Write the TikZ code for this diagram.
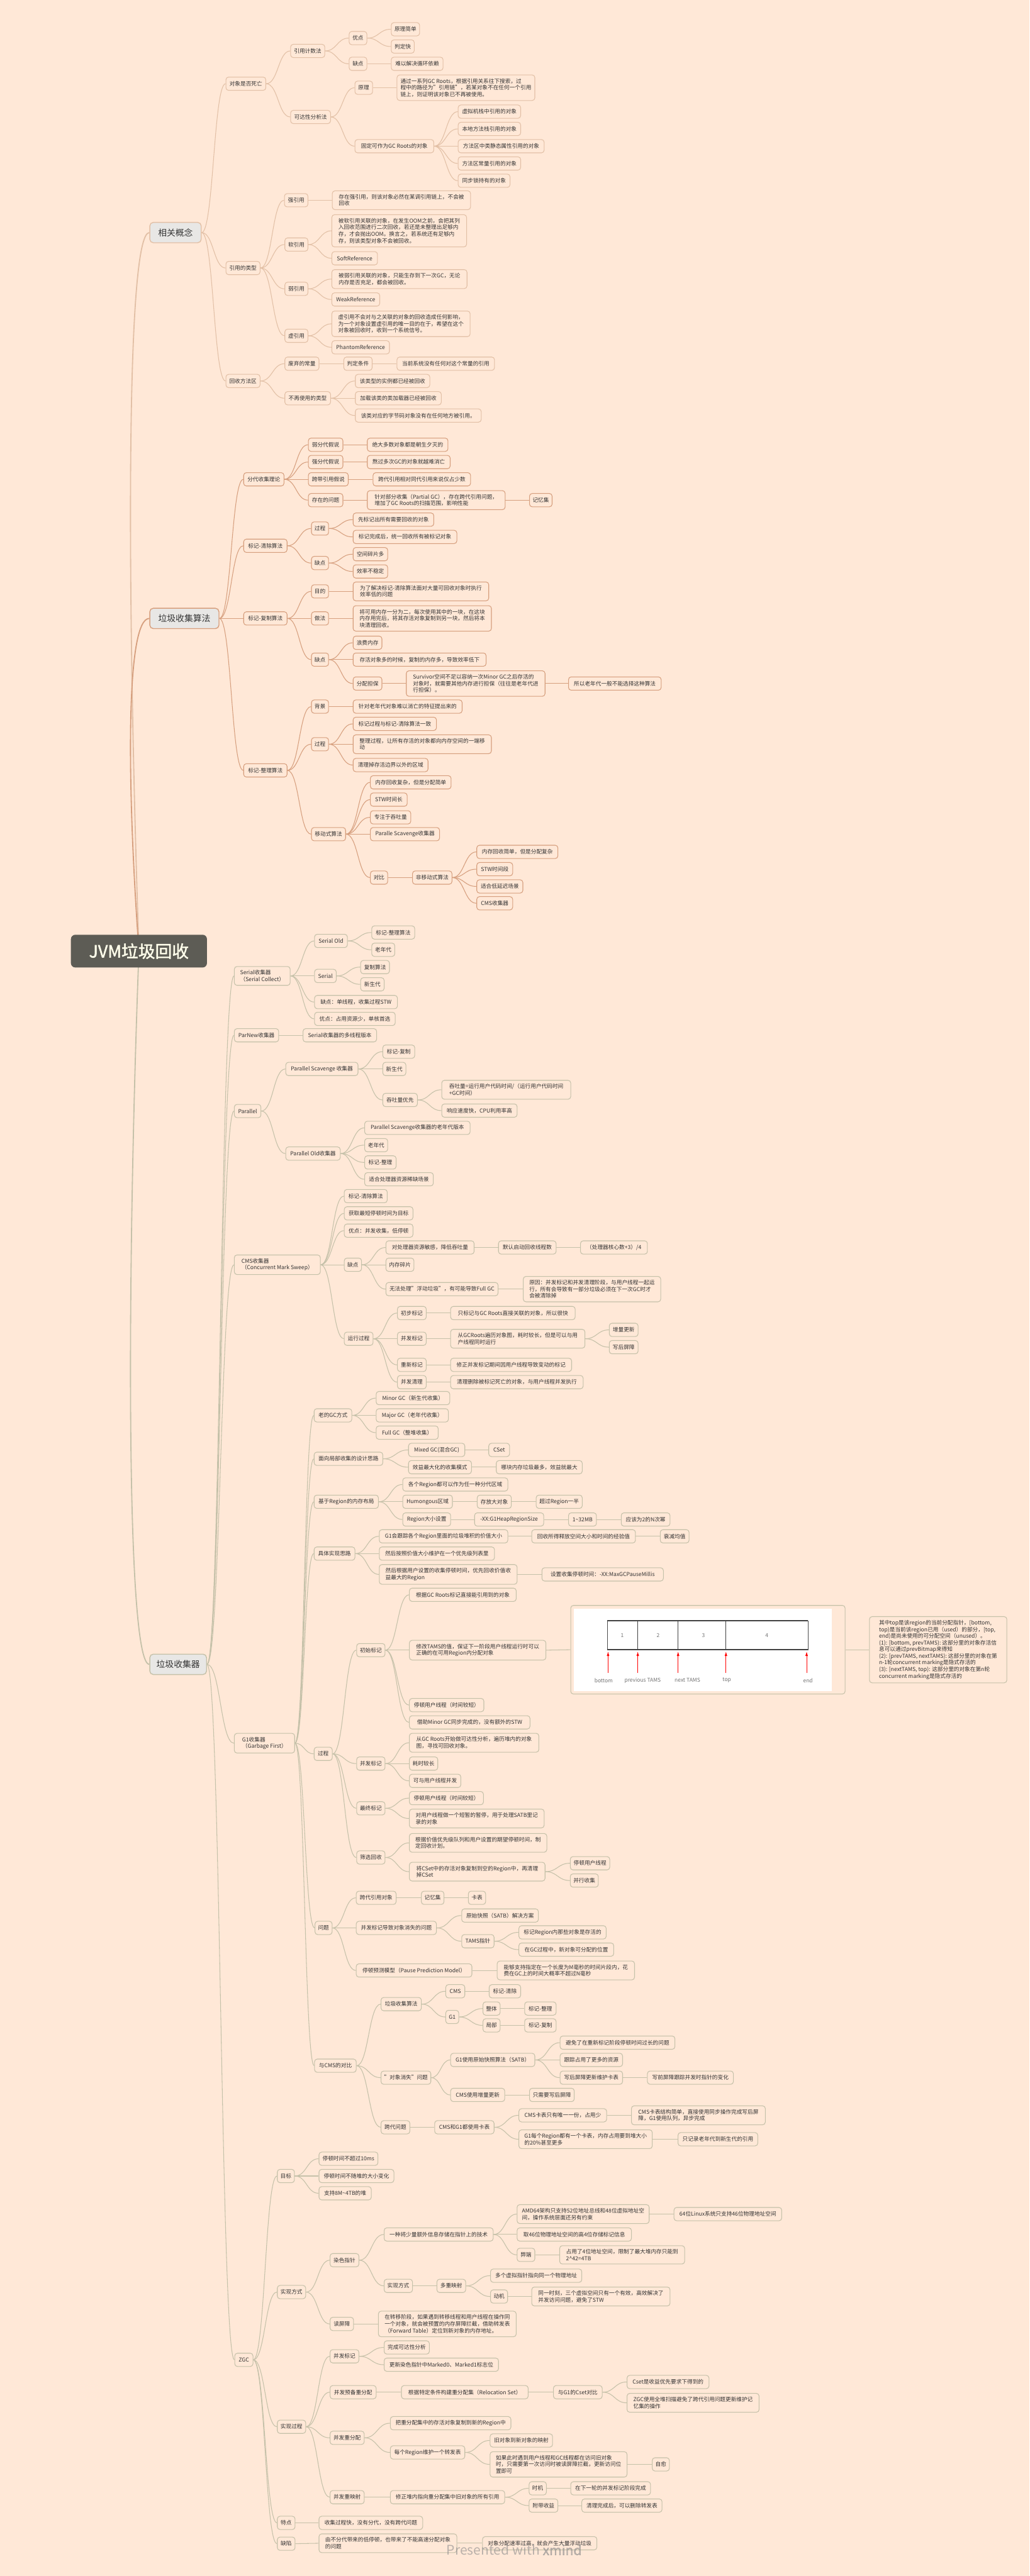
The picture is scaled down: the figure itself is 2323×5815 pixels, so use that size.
\documentclass[tikz,border=0pt]{standalone}
\usepackage{fontspec}
\setmainfont{Noto Sans CJK SC}
\newfontfamily\boldcjk[FakeBold=1.5]{Noto Sans CJK SC}
\usetikzlibrary{calc,arrows.meta}
\pgfdeclarelayer{bg}
\pgfsetlayers{bg,main}
\definecolor{bgc}{HTML}{FFE8D7}
\definecolor{colA}{HTML}{E2C0A6}
\definecolor{colB}{HTML}{D69F7E}
\definecolor{colC}{HTML}{C5C1A9}
\definecolor{mainfill}{HTML}{E8E7E5}
\definecolor{rootfill}{HTML}{5D5C55}
\definecolor{txt}{HTML}{333333}
\newcommand\nd[6]{\node[#1,minimum width=#5*0.5pt,anchor=west] (#2) at (#3,#4) {#6};}
\newcommand\fan[3]{\foreach \chl in {#3}{\draw[#1] (#2.east) to[mmcurve] (\chl.west);}}
\begin{document}
\begin{tikzpicture}[x=0.5pt,y=-0.5pt,
  mbox/.style={draw, fill=bgc, rounded corners=3pt, line width=0.75pt, inner xsep=3.5pt, inner ysep=4pt, minimum height=15pt, align=left, text=txt, font=\fontsize{6.15pt}{7.5pt}\selectfont},
  t1/.style={mbox, draw=colA}, t2/.style={mbox, draw=colB}, t3/.style={mbox, draw=colC},
  l1/.style={draw=colA, line width=0.75pt}, l2/.style={draw=colB, line width=0.75pt}, l3/.style={draw=colC, line width=0.75pt},
  mainst/.style={draw, fill=mainfill, rounded corners=4pt, line width=1pt, minimum height=23pt, text=txt, font=\fontsize{9.8pt}{11pt}\selectfont, anchor=west},
  rootst/.style={fill=rootfill, rounded corners=5pt, text=white!92!yellow, font=\boldcjk\fontsize{19pt}{22pt}\selectfont},
  imgl/.style={font=\fontsize{6pt}{7pt}\selectfont, text=black!55, inner sep=0pt},
  mmcurve/.style={to path={.. controls ($(\tikztostart)!0.5!(\tikztotarget|-\tikztostart)$) and ($(\tikztotarget)!0.5!(\tikztostart|-\tikztotarget)$) .. (\tikztotarget)}}
]
\begin{pgfonlayer}{bg}
\fill[bgc] (0,0) rectangle (2323,5815);
\end{pgfonlayer}
\useasboundingbox (0,0) rectangle (2323,5815);

% root and main
\node[rootst, minimum width=153.5pt, minimum height=37pt] (root) at (313.5,2147) {JVM垃圾回收};
\node[mainst, draw=colA, minimum width=58pt] (s1) at (337,525) {相关概念};
\node[mainst, draw=colB, minimum width=78pt] (s2) at (337,1396) {垃圾收集算法};
\node[mainst, draw=colC, minimum width=64pt] (s3) at (337,3757) {垃圾收集器};

% ---------- section 1
\nd{t1}{a}{509}{189}{90}{对象是否死亡}
\nd{t1}{a1}{655}{115}{77}{引用计数法}
\nd{t1}{a11}{787}{86}{40}{优点}
\nd{t1}{a111}{882}{66}{64}{原理简单}
\nd{t1}{a112}{882}{105}{52}{判定快}
\nd{t1}{a12}{787}{144}{40}{缺点}
\nd{t1}{a121}{882}{144}{117}{难以解决循环依赖}
\nd{t1}{a2}{655}{264}{90}{可达性分析法}
\nd{t1}{a21}{800}{198}{40}{原理}
\nd{t1}{a211}{895}{198}{311}{通过一系列GC Roots，根据引用关系往下搜索，过\\程中的路径为"引用链"，若某对象不在任何一个引用\\链上，则证明该对象已不再被使用。}
\nd{t1}{a22}{800}{330}{178}{固定可作为GC Roots的对象}
\nd{t1}{a221}{1033}{252}{141}{虚拟机栈中引用的对象}
\nd{t1}{a222}{1033}{291}{141}{本地方法栈引用的对象}
\nd{t1}{a223}{1033}{330}{194}{方法区中类静态属性引用的对象}
\nd{t1}{a224}{1033}{369}{141}{方法区常量引用的对象}
\nd{t1}{a225}{1033}{408}{117}{同步锁持有的对象}
\nd{t1}{b}{509}{605}{77}{引用的类型}
\nd{t1}{b1}{641}{452}{53}{强引用}
\nd{t1}{b11}{749}{452}{312}{存在强引用，则该对象必然在某调引用链上，不会被\\回收}
\nd{t1}{b2}{642}{552}{52}{软引用}
\nd{t1}{b21}{748}{521}{304}{被软引用关联的对象，在发生OOM之前，会把其列\\入回收范围进行二次回收，若还是未整理出足够内\\存，才会抛出OOM。换言之，若系统还有足够内\\存，则该类型对象不会被回收。}
\nd{t1}{b22}{748}{583}{103}{SoftReference}
\nd{t1}{b3}{642}{652}{52}{弱引用}
\nd{t1}{b31}{748}{630}{305}{被弱引用关联的对象，只能生存到下一次GC，无论\\内存是否充足，都会被回收。}
\nd{t1}{b32}{748}{676}{108}{WeakReference}
\nd{t1}{b4}{642}{758}{52}{虚引用}
\nd{t1}{b41}{748}{731}{312}{虚引用不会对与之关联的对象的回收造成任何影响，\\为一个对象设置虚引用的唯一目的在于，希望在这个\\对象被回收时，收到一个系统信号。}
\nd{t1}{b42}{748}{784}{130}{PhantomReference}
\nd{t1}{c}{509}{860}{77}{回收方法区}
\nd{t1}{c1}{642}{821}{77}{废弃的常量}
\nd{t1}{c11}{775}{821}{64}{判定条件}
\nd{t1}{c111}{895}{821}{220}{当前系统没有任何对这个常量的引用}
\nd{t1}{c2}{642}{899}{103}{不再使用的类型}
\nd{t1}{c21}{801}{860}{168}{该类型的实例都已经被回收}
\nd{t1}{c22}{801}{899}{194}{加载该类的类加载器已经被回收}
\nd{t1}{c23}{801}{938}{284}{该类对应的字节码对象没有在任何地方被引用。}

% ---------- section 2
\nd{t2}{d}{549}{1082}{91}{分代收集理论}
\nd{t2}{d1}{695}{1004}{78}{弱分代假说}
\nd{t2}{d11}{828}{1004}{182}{绝大多数对象都是朝生夕灭的}
\nd{t2}{d2}{695}{1043}{78}{强分代假说}
\nd{t2}{d21}{828}{1043}{187}{熬过多次GC的对象就越难消亡}
\nd{t2}{d3}{695}{1082}{90}{跨带引用假说}
\nd{t2}{d31}{841}{1082}{220}{跨代引用相对同代引用来说仅占少数}
\nd{t2}{d4}{695}{1129}{78}{存在的问题}
\nd{t2}{d41}{828}{1129}{311}{针对部分收集（Partial GC），存在跨代引用问题，\\增加了GC Roots的扫描范围，影响性能}
\nd{t2}{d411}{1194}{1129}{51}{记忆集}
\nd{t2}{e}{549}{1232}{98}{标记-清除算法}
\nd{t2}{e1}{702}{1193}{37}{过程}
\nd{t2}{e11}{796}{1173}{182}{先标记出所有需要回收的对象}
\nd{t2}{e12}{796}{1212}{234}{标记完成后，统一回收所有被标记对象}
\nd{t2}{e2}{702}{1271}{37}{缺点}
\nd{t2}{e21}{796}{1251}{78}{空间碎片多}
\nd{t2}{e22}{796}{1290}{78}{效率不稳定}
\nd{t2}{f}{549}{1396}{98}{标记-复制算法}
\nd{t2}{f1}{702}{1335}{37}{目的}
\nd{t2}{f11}{796}{1335}{306}{为了解决标记-清除算法面对大量可回收对象时执行\\效率低的问题}
\nd{t2}{f2}{702}{1396}{37}{做法}
\nd{t2}{f21}{796}{1396}{312}{将可用内存一分为二，每次使用其中的一块，在这块\\内存用完后，将其存活对象复制到另一块，然后将本\\块清理回收。}
\nd{t2}{f3}{702}{1489}{37}{缺点}
\nd{t2}{f31}{796}{1451}{65}{浪费内存}
\nd{t2}{f32}{796}{1489}{300}{存活对象多的时候，复制的内存多，导致效率低下}
\nd{t2}{f33}{796}{1543}{65}{分配担保}
\nd{t2}{f331}{916}{1543}{313}{Survivor空间不足以容纳一次Minor GC之后存活的\\对象时，就需要其他内存进行担保（往往是老年代进\\行担保）。}
\nd{t2}{f3311}{1282}{1543}{209}{所以老年代一般不能选择这种算法}
\nd{t2}{g}{549}{1739}{98}{标记-整理算法}
\nd{t2}{g1}{702}{1595}{37}{背景}
\nd{t2}{g11}{796}{1595}{246}{针对老年代对象难以消亡的特征提出来的}
\nd{t2}{g2}{702}{1680}{37}{过程}
\nd{t2}{g21}{796}{1634}{188}{标记过程与标记-清除算法一致}
\nd{t2}{g22}{796}{1680}{312}{整理过程，让所有存活的对象都向内存空间的一端移\\动}
\nd{t2}{g23}{796}{1727}{169}{清理掉存活边界以外的区域}
\nd{t2}{g3}{702}{1883}{77}{移动式算法}
\nd{t2}{g31}{835}{1766}{182}{内存回收复杂，但是分配简单}
\nd{t2}{g32}{835}{1805}{83}{STW时间长}
\nd{t2}{g33}{835}{1845}{91}{专注于吞吐量}
\nd{t2}{g34}{835}{1883}{156}{Paralle Scavenge收集器}
\nd{t2}{g35}{835}{1981}{39}{对比}
\nd{t2}{g351}{930}{1981}{89}{非移动式算法}
\nd{t2}{g3511}{1075}{1923}{183}{内存回收简单，但是分配复杂}
\nd{t2}{g3512}{1075}{1962}{81}{STW时间段}
\nd{t2}{g3513}{1075}{2001}{104}{适合低延迟场景}
\nd{t2}{g3514}{1075}{2039}{81}{CMS收集器}

% ---------- section 3
\nd{t3}{h}{528}{2203}{126}{Serial收集器\\（Serial Collect）}
\nd{t3}{h1}{709}{2124}{74}{Serial Old}
\nd{t3}{h11}{838}{2105}{97}{标记-整理算法}
\nd{t3}{h12}{838}{2144}{52}{老年代}
\nd{t3}{h2}{709}{2203}{49}{Serial}
\nd{t3}{h21}{813}{2183}{65}{复制算法}
\nd{t3}{h22}{813}{2222}{53}{新生代}
\nd{t3}{h3}{709}{2262}{187}{缺点：单线程，收集过程STW}
\nd{t3}{h4}{709}{2300}{182}{优点：占用资源少，单核首选}
\nd{t3}{i}{528}{2337}{100}{ParNew收集器}
\nd{t3}{i1}{683}{2337}{166}{Serial收集器的多线程版本}
\nd{t3}{j}{528}{2508}{60}{Parallel}
\nd{t3}{j1}{644}{2413}{163}{Parallel Scavenge 收集器}
\nd{t3}{j11}{863}{2374}{72}{标记-复制}
\nd{t3}{j12}{863}{2413}{52}{新生代}
\nd{t3}{j13}{863}{2483}{78}{吞吐量优先}
\nd{t3}{j131}{996}{2460}{291}{吞吐量=运行用户代码时间/（运行用户代码时间\\+GC时间）}
\nd{t3}{j132}{996}{2507}{170}{响应速度快，CPU利用率高}
\nd{t3}{j2}{644}{2604}{123}{Parallel Old收集器}
\nd{t3}{j21}{822}{2546}{238}{Parallel Scavenge收集器的老年代版本}
\nd{t3}{j22}{822}{2585}{52}{老年代}
\nd{t3}{j23}{822}{2624}{71}{标记-整理}
\nd{t3}{j24}{822}{2662}{155}{适合处理器资源稀缺场景}
\nd{t3}{k}{528}{2855}{194}{CMS收集器\\（Concurrent Mark Sweep）}
\nd{t3}{k1}{776}{2700}{97}{标记-清除算法}
\nd{t3}{k2}{776}{2739}{155}{获取最短停顿时间为目标}
\nd{t3}{k3}{776}{2778}{155}{优点：并发收集，低停顿}
\nd{t3}{k4}{776}{2855}{39}{缺点}
\nd{t3}{k41}{870}{2816}{199}{对处理器资源敏感，降低吞吐量}
\nd{t3}{k411}{1124}{2816}{130}{默认启动回收线程数}
\nd{t3}{k4111}{1309}{2816}{151}{（处理器核心数+3）/4}
\nd{t3}{k42}{870}{2855}{63}{内存碎片}
\nd{t3}{k43}{870}{2910}{253}{无法处理"浮动垃圾"，有可能导致Full GC}
\nd{t3}{k431}{1180}{2910}{310}{原因：并发标记和并发清理阶段，与用户线程一起运\\行，所有会导致有一部分垃圾必须在下一次GC时才\\会被清除掉}
\nd{t3}{k5}{776}{3022}{65}{运行过程}
\nd{t3}{k51}{896}{2964}{65}{初步标记}
\nd{t3}{k511}{1016}{2964}{281}{只标记与GC Roots直接关联的对象，所以很快}
\nd{t3}{k52}{896}{3022}{65}{并发标记}
\nd{t3}{k521}{1016}{3022}{303}{从GCRoots遍历对象图，耗时较长，但是可以与用\\户线程同时运行}
\nd{t3}{k5211}{1374}{3002}{65}{增量更新}
\nd{t3}{k5212}{1374}{3041}{65}{写后屏障}
\nd{t3}{k53}{896}{3081}{65}{重新标记}
\nd{t3}{k531}{1016}{3081}{273}{修正并发标记期间因用户线程导致变动的标记}
\nd{t3}{k54}{896}{3120}{65}{并发清理}
\nd{t3}{k541}{1016}{3120}{299}{清理删除被标记死亡的对象，与用户线程并发执行}

\nd{t3}{m}{528}{3935}{136}{G1收集器\\（Garbage First）}
\nd{t3}{m1}{708}{3195}{85}{老的GC方式}
\nd{t3}{m11}{848}{3156}{166}{Minor GC（新生代收集）}
\nd{t3}{m12}{848}{3195}{163}{Major GC（老年代收集）}
\nd{t3}{m13}{848}{3234}{140}{Full GC（整堆收集）}
\nd{t3}{m2}{708}{3293}{155}{面向局部收集的设计思路}
\nd{t3}{m21}{921}{3273}{127}{Mixed GC(混合GC)}
\nd{t3}{m211}{1102}{3273}{47}{CSet}
\nd{t3}{m22}{921}{3312}{142}{效益最大化的收集模式}
\nd{t3}{m221}{1119}{3312}{194}{哪块内存垃圾最多，效益就最大}
\nd{t3}{m3}{708}{3390}{145}{基于Region的内存布局}
\nd{t3}{m31}{908}{3351}{237}{各个Region都可以作为任一种分代区域}
\nd{t3}{m32}{908}{3390}{112}{Humongous区域}
\nd{t3}{m321}{1076}{3390}{77}{存放大对象}
\nd{t3}{m3211}{1209}{3390}{104}{超过Region一半}
\nd{t3}{m33}{908}{3430}{108}{Region大小设置}
\nd{t3}{m331}{1070}{3430}{156}{-XX:G1HeapRegionSize}
\nd{t3}{m3311}{1282}{3430}{63}{1\textasciitilde32MB}
\nd{t3}{m33111}{1401}{3430}{110}{应该为2的N次幂}
\nd{t3}{m4}{708}{3507}{92}{具体实现思路}
\nd{t3}{m41}{855}{3468}{290}{G1会跟踪各个Region里面的垃圾堆积的价值大小}
\nd{t3}{m411}{1199}{3468}{234}{回收所得释放空间大小和时间的经验值}
\nd{t3}{m4111}{1489}{3468}{65}{衰减均值}
\nd{t3}{m42}{855}{3507}{260}{然后按照价值大小维护在一个优先级列表里}
\nd{t3}{m43}{855}{3554}{311}{然后根据用户设置的收集停顿时间，优先回收价值收\\益最大的Region}
\nd{t3}{m431}{1222}{3554}{274}{设置收集停顿时间：-XX:MaxGCPauseMillis}
\nd{t3}{m5}{708}{3959}{41}{过程}
\nd{t3}{m51}{804}{3725}{64}{初始标记}
\nd{t3}{m511}{923}{3600}{241}{根据GC Roots标记直接能引用到的对象}
\nd{t3}{m512}{923}{3725}{308}{修改TAMS的值，保证下一阶段用户线程运行时可以\\正确的在可用Region内分配对象}
\node[t3, minimum width=309.5pt, minimum height=100pt, anchor=west] (m5121) at (1287,3724) {};
\nd{t3}{m51211}{1961}{3724}{310}{其中top是该region的当前分配指针，[bottom,\\top)是当前该region已用（used）的部分，[top,\\end)是尚未使用的可分配空间（unused）。\\(1): [bottom, prevTAMS): 这部分里的对象存活信\\息可以通过prevBitmap来得知\\(2): [prevTAMS, nextTAMS): 这部分里的对象在第\\n-1轮concurrent marking是隐式存活的\\(3): [nextTAMS, top): 这部分里的对象在第n轮\\concurrent marking是隐式存活的}
\nd{t3}{m513}{923}{3849}{168}{停顿用户线程（时间较短）}
\nd{t3}{m514}{923}{3888}{272}{借助Minor GC同步完成的，没有额外的STW}
\nd{t3}{m52}{804}{3981}{64}{并发标记}
\nd{t3}{m521}{923}{3934}{292}{从GC Roots开始做可达性分析，遍历堆内的对象\\图，寻找可回收对象。}
\nd{t3}{m522}{923}{3981}{64}{耗时较长}
\nd{t3}{m523}{923}{4020}{116}{可与用户线程并发}
\nd{t3}{m53}{804}{4082}{64}{最终标记}
\nd{t3}{m531}{923}{4059}{167}{停顿用户线程（时间较短）}
\nd{t3}{m532}{923}{4105}{304}{对用户线程做一个短暂的暂停，用于处理SATB里记\\录的对象}
\nd{t3}{m54}{804}{4193}{64}{筛选回收}
\nd{t3}{m541}{923}{4160}{310}{根据价值优先级队列和用户设置的期望停顿时间，制\\定回收计划。}
\nd{t3}{m542}{923}{4225}{306}{将CSet中的存活对象复制到空的Region中，再清理\\掉CSet}
\nd{t3}{m5421}{1286}{4206}{89}{停顿用户线程}
\nd{t3}{m5422}{1286}{4245}{63}{并行收集}
\nd{t3}{m6}{710}{4352}{38}{问题}
\nd{t3}{m61}{803}{4284}{90}{跨代引用对象}
\nd{t3}{m611}{950}{4284}{51}{记忆集}
\nd{t3}{m6111}{1056}{4284}{39}{卡表}
\nd{t3}{m62}{803}{4352}{181}{并发标记导致对象消失的问题}
\nd{t3}{m621}{1041}{4324}{173}{原始快照（SATB）解决方案}
\nd{t3}{m622}{1041}{4382}{73}{TAMS指针}
\nd{t3}{m6221}{1170}{4362}{197}{标记Region内那些对象是存活的}
\nd{t3}{m6222}{1170}{4401}{214}{在GC过程中，新对象可分配的位置}
\nd{t3}{m63}{803}{4448}{261}{停顿预测模型（Pause Prediction Model）}
\nd{t3}{m631}{1121}{4448}{310}{能够支持指定在一个长度为M毫秒的时间片段内，花\\费在GC上的时间大概率不超过N毫秒}
\nd{t3}{m7}{709}{4663}{94}{与CMS的对比}
\nd{t3}{m71}{859}{4524}{91}{垃圾收集算法}
\nd{t3}{m711}{1005}{4495}{43}{CMS}
\nd{t3}{m7111}{1103}{4495}{71}{标记-清除}
\nd{t3}{m712}{1005}{4553}{29}{G1}
\nd{t3}{m7121}{1089}{4534}{38}{整体}
\nd{t3}{m71211}{1183}{4534}{71}{标记-整理}
\nd{t3}{m7122}{1089}{4572}{38}{局部}
\nd{t3}{m71221}{1183}{4572}{71}{标记-复制}
\nd{t3}{m72}{859}{4690}{103}{"对象消失"问题}
\nd{t3}{m721}{1016}{4650}{190}{G1使用原始快照算法（SATB）}
\nd{t3}{m7211}{1263}{4611}{259}{避免了在重新标记阶段停顿时间过长的问题}
\nd{t3}{m7212}{1263}{4650}{141}{跟踪占用了更多的资源}
\nd{t3}{m7213}{1263}{4690}{141}{写后屏障更新维护卡表}
\nd{t3}{m72131}{1460}{4690}{194}{写前屏障跟踪并发时指针的变化}
\nd{t3}{m722}{1016}{4729}{122}{CMS使用增量更新}
\nd{t3}{m7221}{1194}{4729}{101}{只需要写后屏障}
\nd{t3}{m73}{859}{4802}{65}{跨代问题}
\nd{t3}{m731}{980}{4802}{134}{CMS和G1都使用卡表}
\nd{t3}{m7311}{1170}{4775}{198}{CMS卡表只有唯一一份，占用少}
\nd{t3}{m73111}{1424}{4775}{302}{CMS卡表结构简单，直接使用同步操作完成写后屏\\障，G1使用队列，异步完成}
\nd{t3}{m7312}{1170}{4829}{301}{G1每个Region都有一个卡表，内存占用要到堆大小\\的20\%甚至更多}
\nd{t3}{m73121}{1529}{4829}{180}{只记录老年代到新生代的引用}

\nd{t3}{n}{529}{5327}{41}{ZGC}
\nd{t3}{n1}{625}{4912}{38}{目标}
\nd{t3}{n11}{719}{4873}{133}{停顿时间不超过10ms}
\nd{t3}{n12}{719}{4912}{169}{停顿时间不随堆的大小变化}
\nd{t3}{n13}{719}{4951}{118}{支持8M\textasciitilde4TB的堆}
\nd{t3}{n2}{625}{5174}{64}{实现方式}
\nd{t3}{n21}{744}{5102}{65}{染色指针}
\nd{t3}{n211}{866}{5044}{246}{一种将少量额外信息存储在指针上的技术}
\nd{t3}{n2111}{1166}{4998}{298}{AMD64架构只支持52位地址总线和48位虚拟地址空\\间，操作系统层面还另有约束}
\nd{t3}{n21111}{1520}{4998}{243}{64位Linux系统只支持46位物理地址空间}
\nd{t3}{n2112}{1166}{5044}{258}{取46位物理地址空间的高4位存储标记信息}
\nd{t3}{n2113}{1166}{5090}{40}{弊端}
\nd{t3}{n21131}{1262}{5090}{282}{占用了4位地址空间，限制了最大堆内存只能到\\2\textasciicircum42=4TB}
\nd{t3}{n212}{866}{5160}{64}{实现方式}
\nd{t3}{n2121}{985}{5160}{65}{多重映射}
\nd{t3}{n21211}{1106}{5137}{206}{多个虚拟指针指向同一个物理地址}
\nd{t3}{n21212}{1106}{5184}{38}{动机}
\nd{t3}{n212121}{1199}{5184}{312}{同一时刻，三个虚拟空间只有一个有效，高效解决了\\并发访问问题，避免了STW}
\nd{t3}{n22}{744}{5246}{53}{读屏障}
\nd{t3}{n221}{853}{5246}{311}{在转移阶段，如果遇到转移线程和用户线程在操作同\\一个对象，就会被预置的内存屏障拦截，借助转发表\\（Forward Table）定位到新对象的内存地址。}
\nd{t3}{n3}{625}{5478}{64}{实现过程}
\nd{t3}{n31}{744}{5319}{65}{并发标记}
\nd{t3}{n311}{866}{5299}{102}{完成可达性分析}
\nd{t3}{n312}{866}{5338}{258}{更新染色指针中Marked0、Marked1标志位}
\nd{t3}{n32}{744}{5400}{104}{并发预备重分配}
\nd{t3}{n321}{905}{5400}{286}{根据特定条件构建重分配集（Relocation Set）}
\nd{t3}{n3211}{1248}{5400}{110}{与G1的Cset对比}
\nd{t3}{n32111}{1414}{5377}{185}{Cset是收益优先要求下得到的}
\nd{t3}{n32112}{1414}{5424}{298}{ZGC使用全堆扫描避免了跨代引用问题更新维护记\\忆集的操作}
\nd{t3}{n33}{744}{5503}{77}{并发重分配}
\nd{t3}{n331}{880}{5470}{272}{把重分配集中的存活对象复制到新的Region中}
\nd{t3}{n332}{880}{5536}{168}{每个Region维护一个转发表}
\nd{t3}{n3321}{1105}{5509}{141}{旧对象到新对象的映射}
\nd{t3}{n3322}{1105}{5563}{309}{如果此时遇到用户线程和GC线程都在访问旧对象\\时，只需要第一次访问时被读屏障拦截，更新访问位\\置即可}
\nd{t3}{n33221}{1471}{5563}{37}{自愈}
\nd{t3}{n34}{744}{5637}{77}{并发重映射}
\nd{t3}{n341}{880}{5637}{258}{修正堆内指向重分配集中旧对象的所有引用}
\nd{t3}{n3411}{1193}{5617}{39}{时机}
\nd{t3}{n34111}{1287}{5617}{180}{在下一轮的并发标记阶段完成}
\nd{t3}{n3412}{1193}{5656}{65}{附带收益}
\nd{t3}{n34121}{1312}{5656}{181}{清理完成后，可以删除转发表}
\nd{t3}{n4}{625}{5695}{40}{特点}
\nd{t3}{n41}{719}{5695}{234}{收集过程快，没有分代，没有跨代问题}
\nd{t3}{n5}{625}{5742}{40}{缺陷}
\nd{t3}{n51}{719}{5741}{311}{由不分代带来的低停顿，也带来了不能高速分配对象\\的问题}
\nd{t3}{n511}{1088}{5741}{258}{对象分配速率过高，就会产生大量浮动垃圾}

% ---------- image inside G1 initial mark
\fill[white] (1295,3632) rectangle (1877,3818);
\draw[black!70, line width=0.5pt] (1370,3659) rectangle (1823,3724);
\draw[black!75, line width=1.3pt] (1370,3659) -- (1823,3659);
\draw[black!75, line width=1.3pt] (1370,3724) -- (1823,3724);
\foreach \xx in {1439,1530,1638} {\draw[black!75, line width=0.7pt] (\xx,3659) -- (\xx,3724);}
\node[imgl] (num1) at (1404,3692) {1};
\node[imgl] (num2) at (1485,3692) {2};
\node[imgl] (num3) at (1587,3692) {3};
\node[imgl] (num4) at (1730,3692) {4};
\foreach \xx in {1372,1439,1530,1638,1820} {\draw[red, line width=0.6pt, -{Latex[length=5pt,width=3pt]}] (\xx,3777) -- (\xx,3728);}
\node[imgl] (lbl1) at (1362,3793) {bottom};
\node[imgl] (lbl2) at (1450,3793) {previous TAMS};
\node[imgl] (lbl3) at (1551,3793) {next TAMS};
\node[imgl] (lbl4) at (1640,3793) {top};
\node[imgl] (lbl5) at (1823,3793) {end};

% watermark
\node[text=black!45, opacity=0.6, font=\fontsize{15pt}{17pt}\selectfont] (wm) at (1160,5756) {Presented with {\boldcjk xmind}};

% ---------- connectors
\begin{pgfonlayer}{bg}
\draw[draw=colA, line width=1.3pt] (root.center) .. controls (285,1300) and (285,525) .. (s1.west);
\draw[draw=colB, line width=1.3pt] (root.center) .. controls (285,1750) and (285,1396) .. (s2.west);
\draw[draw=colC, line width=1.3pt] (root.center) .. controls (285,2900) and (285,3757) .. (s3.west);

\fan{l1}{s1}{a,b,c}
\fan{l1}{a}{a1,a2}
\fan{l1}{a1}{a11,a12}
\fan{l1}{a11}{a111,a112}
\fan{l1}{a12}{a121}
\fan{l1}{a2}{a21,a22}
\fan{l1}{a21}{a211}
\fan{l1}{a22}{a221,a222,a223,a224,a225}
\fan{l1}{b}{b1,b2,b3,b4}
\fan{l1}{b1}{b11}
\fan{l1}{b2}{b21,b22}
\fan{l1}{b3}{b31,b32}
\fan{l1}{b4}{b41,b42}
\fan{l1}{c}{c1,c2}
\fan{l1}{c1}{c11}
\fan{l1}{c11}{c111}
\fan{l1}{c2}{c21,c22,c23}

\fan{l2}{s2}{d,e,f,g}
\fan{l2}{d}{d1,d2,d3,d4}
\fan{l2}{d1}{d11}
\fan{l2}{d2}{d21}
\fan{l2}{d3}{d31}
\fan{l2}{d4}{d41}
\fan{l2}{d41}{d411}
\fan{l2}{e}{e1,e2}
\fan{l2}{e1}{e11,e12}
\fan{l2}{e2}{e21,e22}
\fan{l2}{f}{f1,f2,f3}
\fan{l2}{f1}{f11}
\fan{l2}{f2}{f21}
\fan{l2}{f3}{f31,f32,f33}
\fan{l2}{f33}{f331}
\fan{l2}{f331}{f3311}
\fan{l2}{g}{g1,g2,g3}
\fan{l2}{g1}{g11}
\fan{l2}{g2}{g21,g22,g23}
\fan{l2}{g3}{g31,g32,g33,g34,g35}
\fan{l2}{g35}{g351}
\fan{l2}{g351}{g3511,g3512,g3513,g3514}

\fan{l3}{s3}{h,i,j,k,m,n}
\fan{l3}{h}{h1,h2,h3,h4}
\fan{l3}{h1}{h11,h12}
\fan{l3}{h2}{h21,h22}
\fan{l3}{i}{i1}
\fan{l3}{j}{j1,j2}
\fan{l3}{j1}{j11,j12,j13}
\fan{l3}{j13}{j131,j132}
\fan{l3}{j2}{j21,j22,j23,j24}
\fan{l3}{k}{k1,k2,k3,k4,k5}
\fan{l3}{k4}{k41,k42,k43}
\fan{l3}{k41}{k411}
\fan{l3}{k411}{k4111}
\fan{l3}{k43}{k431}
\fan{l3}{k5}{k51,k52,k53,k54}
\fan{l3}{k51}{k511}
\fan{l3}{k52}{k521}
\fan{l3}{k521}{k5211,k5212}
\fan{l3}{k53}{k531}
\fan{l3}{k54}{k541}
\fan{l3}{m}{m1,m2,m3,m4,m5,m6,m7}
\fan{l3}{m1}{m11,m12,m13}
\fan{l3}{m2}{m21,m22}
\fan{l3}{m21}{m211}
\fan{l3}{m22}{m221}
\fan{l3}{m3}{m31,m32,m33}
\fan{l3}{m32}{m321}
\fan{l3}{m321}{m3211}
\fan{l3}{m33}{m331}
\fan{l3}{m331}{m3311}
\fan{l3}{m3311}{m33111}
\fan{l3}{m4}{m41,m42,m43}
\fan{l3}{m41}{m411}
\fan{l3}{m411}{m4111}
\fan{l3}{m43}{m431}
\fan{l3}{m5}{m51,m52,m53,m54}
\fan{l3}{m51}{m511,m512,m513,m514}
\fan{l3}{m512}{m5121}
\fan{l3}{m5121}{m51211}
\fan{l3}{m52}{m521,m522,m523}
\fan{l3}{m53}{m531,m532}
\fan{l3}{m54}{m541,m542}
\fan{l3}{m542}{m5421,m5422}
\fan{l3}{m6}{m61,m62,m63}
\fan{l3}{m61}{m611}
\fan{l3}{m611}{m6111}
\fan{l3}{m62}{m621,m622}
\fan{l3}{m622}{m6221,m6222}
\fan{l3}{m63}{m631}
\fan{l3}{m7}{m71,m72,m73}
\fan{l3}{m71}{m711,m712}
\fan{l3}{m711}{m7111}
\fan{l3}{m712}{m7121,m7122}
\fan{l3}{m7121}{m71211}
\fan{l3}{m7122}{m71221}
\fan{l3}{m72}{m721,m722}
\fan{l3}{m721}{m7211,m7212,m7213}
\fan{l3}{m7213}{m72131}
\fan{l3}{m722}{m7221}
\fan{l3}{m73}{m731}
\fan{l3}{m731}{m7311,m7312}
\fan{l3}{m7311}{m73111}
\fan{l3}{m7312}{m73121}
\fan{l3}{n}{n1,n2,n3,n4,n5}
\fan{l3}{n1}{n11,n12,n13}
\fan{l3}{n2}{n21,n22}
\fan{l3}{n21}{n211,n212}
\fan{l3}{n211}{n2111,n2112,n2113}
\fan{l3}{n2111}{n21111}
\fan{l3}{n2113}{n21131}
\fan{l3}{n212}{n2121}
\fan{l3}{n2121}{n21211,n21212}
\fan{l3}{n21212}{n212121}
\fan{l3}{n22}{n221}
\fan{l3}{n3}{n31,n32,n33,n34}
\fan{l3}{n31}{n311,n312}
\fan{l3}{n32}{n321}
\fan{l3}{n321}{n3211}
\fan{l3}{n3211}{n32111,n32112}
\fan{l3}{n33}{n331,n332}
\fan{l3}{n332}{n3321,n3322}
\fan{l3}{n3322}{n33221}
\fan{l3}{n34}{n341}
\fan{l3}{n341}{n3411,n3412}
\fan{l3}{n3411}{n34111}
\fan{l3}{n3412}{n34121}
\fan{l3}{n4}{n41}
\fan{l3}{n5}{n51}
\fan{l3}{n51}{n511}
\end{pgfonlayer}
\end{tikzpicture}
\end{document}
